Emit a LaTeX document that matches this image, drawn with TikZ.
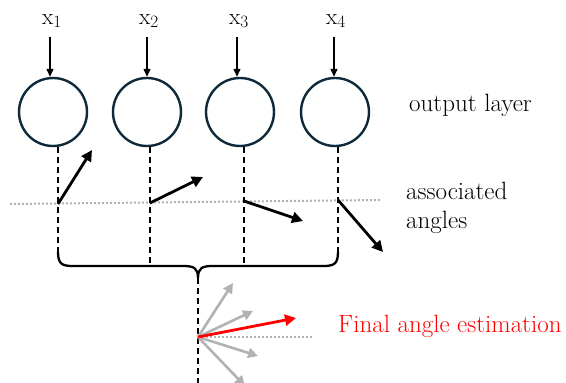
\documentclass[tikz,border=0pt]{standalone}
\usetikzlibrary{arrows.meta}
\definecolor{circ}{HTML}{0E2A3A}
\tikzset{
  neuron/.style={circle, draw=circ, line width=2.4pt, minimum size=68pt, inner sep=0pt},
  inlabel/.style={font=\fontsize{23}{26}\selectfont, inner sep=1pt},
  inarrow/.style={-{Triangle[length=8pt,width=7pt]}, line width=1.2pt},
  dashline/.style={line width=2.2pt, dash pattern=on 6pt off 4pt},
  angarrow/.style={-{Triangle[length=11pt,width=11pt]}, line width=2.8pt},
  fanarrow/.style={-{Triangle[length=10pt,width=10pt]}, line width=2.6pt, draw=gray!60, fill=gray!60},
  dotline/.style={gray!60, line width=2pt, dash pattern=on 2pt off 2pt},
  sidelabel/.style={font=\fontsize{25}{29}\selectfont, anchor=west, inner sep=0pt, align=left},
}
\begin{document}
\begin{tikzpicture}[x=1pt,y=-1pt]
\useasboundingbox (0,0) rectangle (566,383);
% neurons
\node[neuron] (c1) at (53,112) {};
\node[neuron] (c2) at (147,112) {};
\node[neuron] (c3) at (240,112) {};
\node[neuron] (c4) at (335,112) {};
% inputs
\node[inlabel] (x1) at (52,21) {x$_1$};
\node[inlabel] (x2) at (149,21) {x$_2$};
\node[inlabel] (x3) at (239,21) {x$_3$};
\node[inlabel] (x4) at (336,21) {x$_4$};
\foreach \i/\xx in {1/50,2/147,3/237,4/334}{
  \draw[inarrow] (\xx,37) -- (c\i.north -| \xx,0);
}
% dotted line
\coordinate (dl) at (10,204);
\coordinate (dr) at (380,200);
\draw[dotline] (dl) -- (dr);
% dashed verticals
\coordinate (b1) at (58,252);
\coordinate (b2) at (150,266);
\coordinate (b3) at (244,266);
\coordinate (b4) at (338,252);
\draw[dashline] (c1.south -| b1) -- (b1);
\draw[dashline] (c2.south -| b2) -- (b2);
\draw[dashline] (c3.south -| b3) -- (b3);
\draw[dashline] (c4.south -| b4) -- (b4);
% angle arrows
\coordinate (o1) at (58,204);
\coordinate (o2) at (150,203);
\coordinate (o3) at (244,201);
\coordinate (o4) at (338,200);
\coordinate (t1) at (92,150);
\coordinate (t2) at (203,177);
\coordinate (t3) at (303,221);
\coordinate (t4) at (383,252);
\foreach \i in {1,...,4}{\draw[angarrow] (o\i) -- (t\i);}
% brace
\coordinate (tip) at (198,278);
\draw[line width=2.3pt] (b1) .. controls (58,264) and (62,266) .. (73,266) -- (183,266)
  .. controls (194,266) and (198,268) .. (tip)
  .. controls (198,268) and (202,266) .. (213,266) -- (323,266)
  .. controls (334,266) and (338,264) .. (b4);
% final
\coordinate (fo) at (198,337);
\coordinate (fb) at (198,383);
\draw[dashline] (tip) -- (fb);
\coordinate (fe) at (312,337);
\draw[dotline] (fo) -- (fe);
\coordinate (g1) at (233,283);
\coordinate (g2) at (253,311);
\coordinate (g3) at (258,356);
\coordinate (g4) at (245,386);
\foreach \i in {1,...,4}{\draw[fanarrow] (fo) -- (g\i);}
\coordinate (rt) at (296,318);
\draw[angarrow, red] (fo) -- (rt);
% labels
\node[sidelabel] (ol) at (409,105) {output layer};
\node[sidelabel] (al) at (406,208) {associated\\angles};
\node[sidelabel, text=red] (fl) at (338,326) {Final angle estimation};
\end{tikzpicture}
\end{document}
